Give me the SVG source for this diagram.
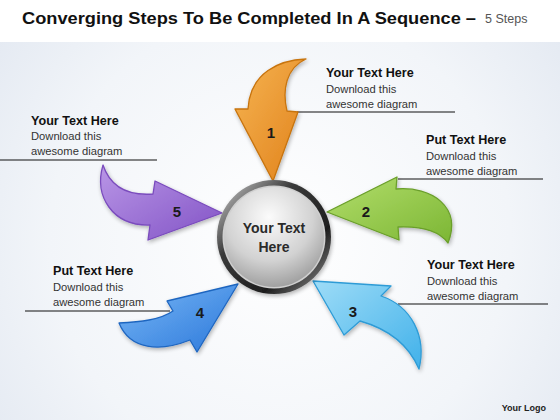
<svg xmlns="http://www.w3.org/2000/svg" width="560" height="420" viewBox="0 0 560 420">
<defs>
<radialGradient id="bg" cx="280" cy="240" r="420" gradientUnits="userSpaceOnUse">
<stop offset="0" stop-color="#ffffff"/><stop offset="0.55" stop-color="#f2f5f9"/><stop offset="1" stop-color="#dce3ee"/>
</radialGradient>
<linearGradient id="gOr" x1="0" y1="0" x2="1" y2="1"><stop offset="0" stop-color="#f6b452"/><stop offset="1" stop-color="#e0811a"/></linearGradient>
<linearGradient id="gGr" x1="0" y1="0" x2="1" y2="1"><stop offset="0" stop-color="#b3de6c"/><stop offset="1" stop-color="#7cb634"/></linearGradient>
<linearGradient id="gLb" x1="0" y1="0" x2="1" y2="1"><stop offset="0" stop-color="#9edcf7"/><stop offset="1" stop-color="#41b1ea"/></linearGradient>
<linearGradient id="gBl" x1="0" y1="0" x2="1" y2="1"><stop offset="0" stop-color="#7ab8f6"/><stop offset="1" stop-color="#2a77da"/></linearGradient>
<linearGradient id="gPu" x1="0" y1="0" x2="1" y2="1"><stop offset="0" stop-color="#b996e6"/><stop offset="1" stop-color="#8253c6"/></linearGradient>
<linearGradient id="ring" x1="0" y1="0" x2="1" y2="1"><stop offset="0" stop-color="#d8d8d8"/><stop offset="0.35" stop-color="#3a3a3a"/><stop offset="0.7" stop-color="#1e1e1e"/><stop offset="1" stop-color="#9a9a9a"/></linearGradient>
<radialGradient id="face" cx="0.45" cy="0.3" r="0.8"><stop offset="0" stop-color="#fbfbfb"/><stop offset="0.55" stop-color="#d2d2d2"/><stop offset="1" stop-color="#8e8e8e"/></radialGradient>
<filter id="sh" x="-20%" y="-20%" width="140%" height="140%"><feGaussianBlur in="SourceAlpha" stdDeviation="2"/><feOffset dx="1" dy="1.5"/><feComponentTransfer><feFuncA type="linear" slope="0.3"/></feComponentTransfer><feMerge><feMergeNode/><feMergeNode in="SourceGraphic"/></feMerge></filter>
</defs>
<style>
.h{font-family:"Liberation Sans",Arial,sans-serif;font-weight:bold;font-size:12.6px;fill:#111}
.b{font-family:"Liberation Sans",Arial,sans-serif;font-size:11.2px;fill:#333}
.n{font-family:"Liberation Sans",Arial,sans-serif;font-weight:bold;font-size:15px;fill:#1a1a1a;text-anchor:middle}
.ln{stroke:#111;stroke-width:1.2;fill:none}
.ar{stroke-width:1.3;stroke-linejoin:round;filter:url(#sh)}
</style>
<rect width="560" height="420" fill="url(#bg)"/>
<rect width="560" height="42" fill="#ffffff"/>
<g id="title">
<text x="22" y="24" font-family="Liberation Sans,Arial,sans-serif" font-weight="bold" font-size="17" fill="#111" textLength="454" lengthAdjust="spacingAndGlyphs">Converging Steps To Be Completed In A Sequence –</text>
<text x="485" y="23" font-family="Liberation Sans,Arial,sans-serif" font-size="12.5" fill="#555">5 Steps</text>
</g>
<g id="connectors">
<line class="ln" x1="297" y1="112" x2="455" y2="112"/>
<line class="ln" x1="398" y1="179" x2="543" y2="179" stroke="#444"/>
<line class="ln" x1="398" y1="304" x2="548" y2="304"/>
<line class="ln" x1="25" y1="311" x2="170" y2="311"/>
<line class="ln" x1="0" y1="160" x2="157" y2="160"/>
</g>
<g id="step1">
<path class="ar" fill="url(#gOr)" stroke="#c8740f" d="M306,59 C280,60 250,72 248,109 L235,109 L273,181 L298,112 L287,111 C282,90 286,68 306,59 Z"/>
<text class="n" x="271" y="138">1</text>
</g>
<g id="step2">
<path class="ar" fill="url(#gGr)" stroke="#6a9f2a" d="M327,212 L397,177 L396,189 C432,186 462,207 448,243 C440,232 425,226 398,227 L399,240 Z"/>
<text class="n" x="366" y="217">2</text>
</g>
<g id="step3">
<path class="ar" fill="url(#gLb)" stroke="#2d9bd6" d="M313,281 L391,286 L381,296 C411,306 427,336 419,369 C410,348 392,330 360,321 L344,335 Z"/>
<text class="n" x="353" y="317">3</text>
</g>
<g id="step4">
<path class="ar" fill="url(#gBl)" stroke="#1f66c0" d="M238,284 L197,352 L190,340 C160,352 130,350 119,323 C140,322 160,320 173,311 L167,301 Z"/>
<text class="n" x="200" y="318">4</text>
</g>
<g id="step5">
<path class="ar" fill="url(#gPu)" stroke="#7a4bbd" d="M222,213 L155,181 L153,194 C126,196 110,186 103,165 C94,196 112,226 150,225 L148,240 Z"/>
<text class="n" x="177" y="217">5</text>
</g>
<g id="center">
<circle cx="274" cy="237" r="57" fill="url(#ring)" filter="url(#sh)"/>
<circle cx="274" cy="237" r="51.5" fill="#cfcfcf"/>
<circle cx="274" cy="237" r="50" fill="url(#face)"/>
<text x="274" y="233" text-anchor="middle" font-family="Liberation Sans,Arial,sans-serif" font-weight="bold" font-size="14" fill="#2a2a2a">Your Text</text>
<text x="274" y="252" text-anchor="middle" font-family="Liberation Sans,Arial,sans-serif" font-weight="bold" font-size="14" fill="#2a2a2a">Here</text>
</g>
<g id="text1">
<text class="h" x="326" y="77">Your Text Here</text>
<text class="b" x="326" y="93">Download this</text>
<text class="b" x="326" y="108">awesome diagram</text>
</g>
<g id="text2">
<text class="h" x="426" y="144">Put Text Here</text>
<text class="b" x="426" y="160">Download this</text>
<text class="b" x="426" y="175">awesome diagram</text>
</g>
<g id="text3">
<text class="h" x="427" y="269">Your Text Here</text>
<text class="b" x="427" y="285">Download this</text>
<text class="b" x="427" y="300">awesome diagram</text>
</g>
<g id="text4">
<text class="h" x="53" y="275">Put Text Here</text>
<text class="b" x="53" y="291">Download this</text>
<text class="b" x="53" y="306">awesome diagram</text>
</g>
<g id="text5">
<text class="h" x="31" y="125">Your Text Here</text>
<text class="b" x="31" y="140">Download this</text>
<text class="b" x="31" y="155">awesome diagram</text>
</g>
<g id="logo">
<text x="546" y="411" text-anchor="end" font-family="Liberation Sans,Arial,sans-serif" font-weight="bold" font-size="9" fill="#222">Your Logo</text>
</g>
</svg>
